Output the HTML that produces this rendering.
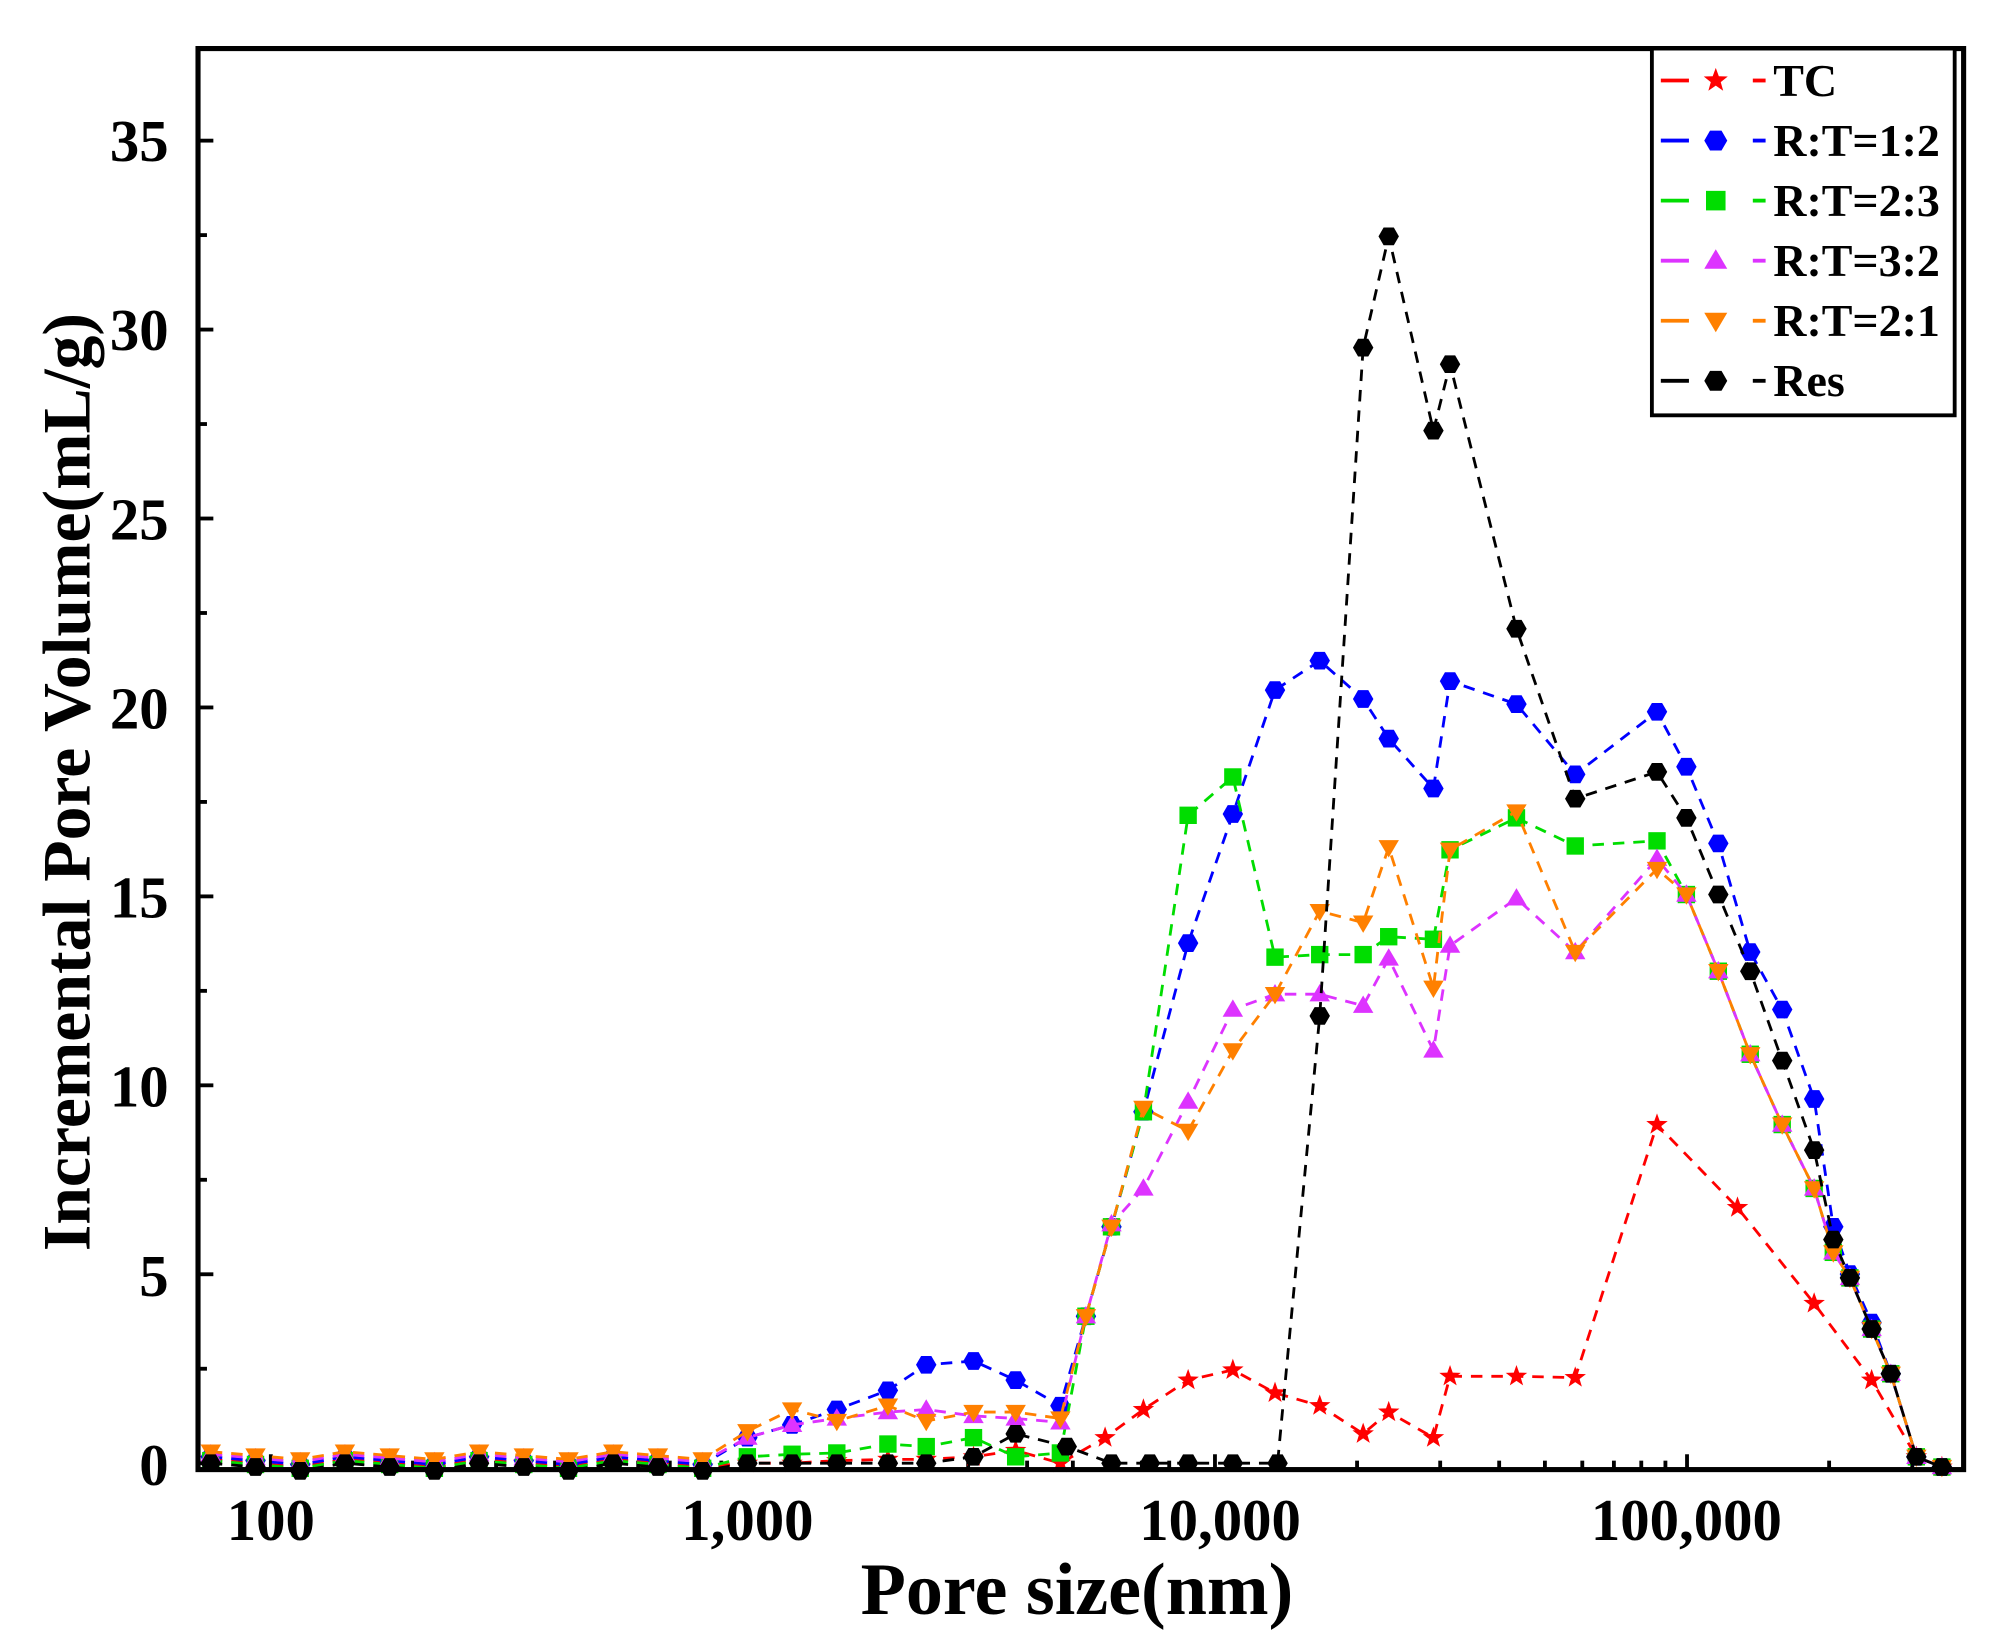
<!DOCTYPE html>
<html><head><meta charset="utf-8"><style>
html,body{margin:0;padding:0;background:#fff;}
svg{display:block;}
text{font-family:"Liberation Serif",serif;font-weight:bold;fill:#000;}
</style></head><body>
<svg id="s" width="1993" height="1637" viewBox="0 0 1560 1281" preserveAspectRatio="none" xmlns="http://www.w3.org/2000/svg">
<rect x="0" y="0" width="1560" height="1281" fill="#fff"/>
<g id="ticks"></g>
<g id="plot"></g>
<rect x="155" y="38" width="1382" height="1112" fill="none" stroke="#000" stroke-width="4"/>
<g id="leg"></g>
<text x="132" y="126" font-size="46" text-anchor="end">35</text>
<text x="132" y="274" font-size="46" text-anchor="end">30</text>
<text x="132" y="422" font-size="46" text-anchor="end">25</text>
<text x="132" y="570" font-size="46" text-anchor="end">20</text>
<text x="132" y="718" font-size="46" text-anchor="end">15</text>
<text x="132" y="866" font-size="46" text-anchor="end">10</text>
<text x="132" y="1014" font-size="46" text-anchor="end">5</text>
<text x="132" y="1162" font-size="46" text-anchor="end">0</text>
<text x="212" y="1205" font-size="46" text-anchor="middle">100</text>
<text x="585" y="1205" font-size="46" text-anchor="middle">1,000</text>
<text x="955" y="1205" font-size="46" text-anchor="middle">10,000</text>
<text x="1320" y="1205" font-size="46" text-anchor="middle">100,000</text>
<text x="843" y="1263" font-size="58" text-anchor="middle">Pore size(nm)</text>
<text transform="translate(70,612) rotate(-90)" font-size="53" text-anchor="middle">Incremental Pore Volume(mL/g)</text>
</svg>
<script>
var NS="http://www.w3.org/2000/svg";
function el(p,t,a){var e=document.createElementNS(NS,t);for(var k in a)e.setAttribute(k,a[k]);p.appendChild(e);return e;}
var T=document.getElementById('ticks');
for(var v=0;v<=35;v+=2.5){var y=1145-v*29.57;var L=(v%5==0)?12:7;el(T,'line',{x1:155,x2:155+L,y1:y,y2:y,stroke:'#000','stroke-width':3});}
for(var d=2;d<=5;d++){for(var m=1;m<10;m++){var x=212+369.5*(Math.log10(m*Math.pow(10,d))-2);if(x<157||x>1535)continue;var L=m==1?12:7;el(T,'line',{x1:x,x2:x,y1:1150,y2:1150-L,stroke:'#000','stroke-width':3});}}
var low=[];for(var x=165;x<560;x+=35)low.push(x);
function mk(pts,base){var r=low.map(function(x,i){return [x,base+(i%3)*3];});return r.concat(pts);}
var dec=[[1320,700],[1345,760],[1370,825],[1395,880],[1420,930],[1435,980],[1448,1000],[1465,1040],[1480,1075],[1500,1140],[1520,1148]];
var S=[
{c:'#ff0000',m:'star',p:mk([[585,1145],[620,1145],[655,1143],[695,1142],[725,1142],[762,1140],[795,1135],[830,1145],[865,1125],[895,1103],[930,1080],[965,1072],[998,1090],[1033,1100],[1067,1122],[1087,1105],[1122,1125],[1135,1077],[1187,1077],[1233,1078],[1297,880],[1360,945],[1420,1020],[1465,1080],[1500,1140],[1520,1148]],1142)},
{c:'#0000ff',m:'hex',p:mk([[585,1125],[620,1115],[655,1103],[695,1088],[725,1068],[762,1065],[795,1080],[830,1100],[850,1030],[870,960],[895,870],[930,738],[965,637],[998,540],[1033,517],[1067,547],[1087,578],[1122,617],[1135,533],[1187,551],[1233,606],[1297,557],[1320,600],[1345,660],[1370,745],[1395,790],[1420,860],[1435,960],[1448,997],[1465,1035],[1480,1075],[1500,1140],[1520,1148]],1140)},
{c:'#00dd00',m:'sq',p:mk([[585,1140],[620,1138],[655,1137],[695,1130],[725,1132],[762,1125],[795,1140],[830,1137],[850,1030],[870,960],[895,870],[930,638],[965,608],[998,749],[1033,747],[1067,747],[1087,733],[1122,735],[1135,665],[1187,640],[1233,662],[1297,658]].concat(dec),1143)},
{c:'#dd33ff',m:'tu',p:mk([[585,1125],[620,1115],[655,1110],[695,1105],[725,1103],[762,1108],[795,1110],[830,1113],[850,1030],[870,958],[895,930],[930,862],[965,790],[998,778],[1033,778],[1067,787],[1087,750],[1122,822],[1135,740],[1187,703],[1233,745],[1297,672]].concat(dec),1138)},
{c:'#ff8000',m:'td',p:mk([[585,1120],[620,1103],[655,1112],[695,1100],[725,1112],[762,1105],[795,1105],[830,1110],[850,1030],[870,960],[895,867],[930,885],[965,822],[998,778],[1033,713],[1067,722],[1087,663],[1122,773],[1135,665],[1187,635],[1233,745],[1297,680]].concat(dec),1136)},
{c:'#000000',m:'hex',p:mk([[585,1145],[620,1145],[655,1145],[695,1145],[725,1145],[762,1140],[795,1122],[835,1132],[870,1145],[900,1145],[930,1145],[965,1145],[1000,1145],[1033,795],[1067,272],[1087,185],[1122,337],[1135,285],[1187,492],[1233,625],[1297,604],[1320,640],[1345,700],[1370,760],[1395,830],[1420,900],[1435,970],[1448,1000],[1465,1040],[1480,1075],[1500,1140],[1520,1148]],1145)}
];
var P=document.getElementById('plot');
function marker(g,m,x,y,c,s){
 s=s||8;
 if(m=='star'){var pts=[];for(var i=0;i<10;i++){var r=i%2?s*0.45:s*1.1;var a=-Math.PI/2+i*Math.PI/5;pts.push((x+r*Math.cos(a)).toFixed(1)+','+(y+r*Math.sin(a)).toFixed(1));}el(g,'polygon',{points:pts.join(' '),fill:c});}
 else if(m=='hex'){var pts=[];for(var i=0;i<6;i++){var a=i*Math.PI/3;pts.push((x+s*Math.cos(a))+','+(y+s*Math.sin(a)));}el(g,'polygon',{points:pts.join(' '),fill:c});}
 else if(m=='sq'){el(g,'rect',{x:x-s*0.85,y:y-s*0.85,width:s*1.7,height:s*1.7,fill:c});}
 else if(m=='tu'){el(g,'polygon',{points:(x)+','+(y-s)+' '+(x-s)+','+(y+s*0.7)+' '+(x+s)+','+(y+s*0.7),fill:c});}
 else {el(g,'polygon',{points:(x)+','+(y+s)+' '+(x-s)+','+(y-s*0.7)+' '+(x+s)+','+(y-s*0.7),fill:c});}
}
S.forEach(function(s){
 el(P,'polyline',{points:s.p.map(function(q){return q.join(',')}).join(' '),fill:'none',stroke:s.c,'stroke-width':2.2,'stroke-dasharray':'9,7'});
 s.p.forEach(function(q){marker(P,s.m,q[0],q[1],s.c,8);});
});
var G=document.getElementById('leg');
el(G,'rect',{x:1293,y:38,width:237,height:287,fill:'#fff',stroke:'#000','stroke-width':3});
var names=['TC','R:T=1:2','R:T=2:3','R:T=3:2','R:T=2:1','Res'];
S.forEach(function(s,i){var y=63+i*47;
 el(G,'line',{x1:1300,x2:1322,y1:y,y2:y,stroke:s.c,'stroke-width':3});
 el(G,'line',{x1:1372,x2:1382,y1:y,y2:y,stroke:s.c,'stroke-width':3});
 marker(G,s.m,1343,y,s.c,9);
 var t=el(G,'text',{x:1388,y:y+12,'font-size':36});t.textContent=names[i];
});
</script>
</body></html>
